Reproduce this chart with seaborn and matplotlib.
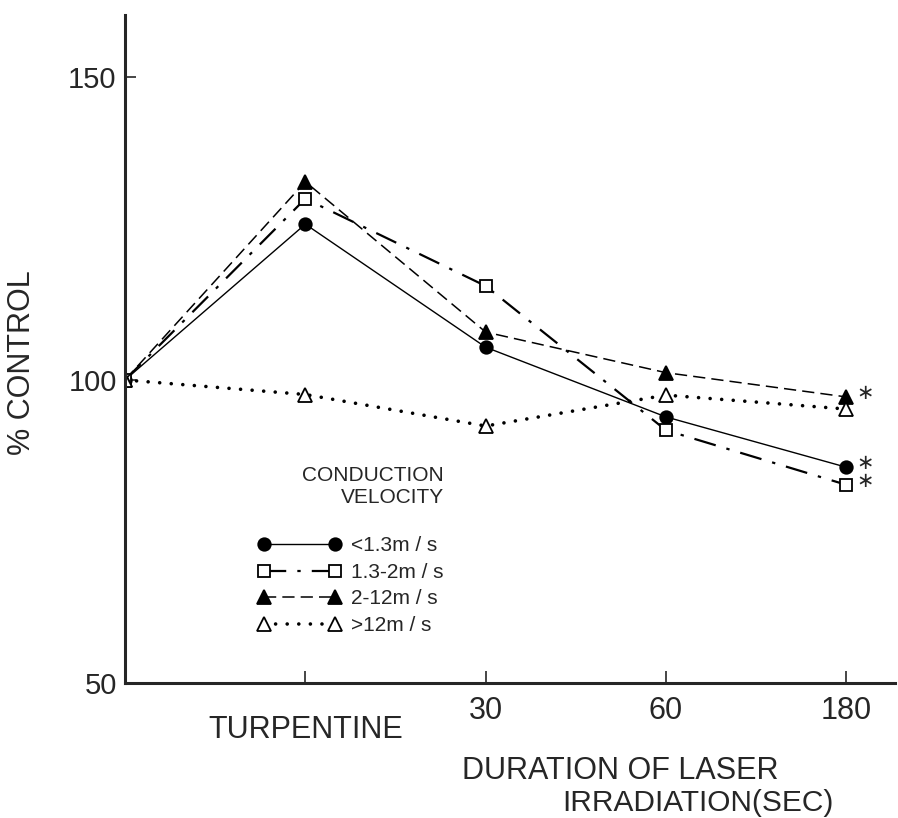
import pandas as pd
import matplotlib.pyplot as plt
import matplotlib.transforms as mtransforms
import seaborn as sns

# x positions: control, turpentine, 30 s, 60 s, 180 s
positions = [0, 1, 2, 3, 4]
tick_labels = ["TURPENTINE", "30", "60", "180"]

series_names = ["<1.3m / s", "1.3-2m / s", "2-12m / s", ">12m / s"]
slow_values = [100, 125.7, 105.4, 93.9, 85.6]
mid_values = [100, 129.9, 115.5, 91.7, 82.7]
fast_values = [100, 132.7, 107.9, 101.2, 97.2]
fastest_values = [100, 97.6, 92.4, 97.5, 95.2]
significant = [True, True, True, False]

sns.set_style("ticks")
plt.rcParams["font.family"] = ["Liberation Sans", "DejaVu Sans"]

fig = plt.figure(figsize=(8.98, 8.18), dpi=100)
ax = fig.add_axes([0.1392, 0.165, 0.8575, 0.8166])

styles = [
    dict(marker="o", markersize=9, markerfacecolor="black", linestyle="-", linewidth=1.0),
    dict(marker="s", markersize=8.5, markerfacecolor="white", linestyle=(0, (10, 5, 1.5, 5)), linewidth=1.6),
    dict(marker="^", markersize=9.5, markerfacecolor="black", linestyle=(0, (8, 4)), linewidth=1.1),
    dict(marker="^", markersize=9.5, markerfacecolor="white", linestyle=(0, (0.01, 3.2)),
         linewidth=2.6, dash_capstyle="round"),
]
all_values = [slow_values, mid_values, fast_values, fastest_values]

for name, vals, st, star in zip(series_names, all_values, styles, significant):
    df = pd.DataFrame({"pos": positions, "value": vals})
    sns.lineplot(data=df, x="pos", y="value", ax=ax, color="black", label=name,
                 markeredgecolor="black", markeredgewidth=1.3, errorbar=None, **st)
    if star:
        # significance mark, drawn just up-right of the 180 s point
        ax.annotate("\u2217", xy=(positions[-1], vals[-1]), xytext=(7, 3),
                    textcoords="offset points", fontsize=15, ha="left", va="center",
                    family=["DejaVu Sans"])

ax.set_xlim(0, 4.27)
ax.set_ylim(50, 160.2)
ax.set_xticks(positions[1:])
ax.set_xticklabels(tick_labels)
ax.set_yticks([50, 100, 150])
ax.tick_params(axis="x", direction="in", length=9, width=1.2, labelsize=22, pad=9)
ax.tick_params(axis="y", direction="in", length=8, width=1.2, labelsize=21, pad=6)

# turpentine label sits lower than the time labels
turp = ax.get_xticklabels()[0]
turp.set_transform(turp.get_transform() + mtransforms.ScaledTranslation(0, -14 / 72, fig.dpi_scale_trans))

sns.despine(ax=ax)
for side in ["left", "bottom"]:
    ax.spines[side].set_linewidth(2.2)

ax.set_xlabel("")
ax.set_ylabel("% CONTROL", fontsize=22)
ax.yaxis.set_label_coords(-0.114, 0.48)

fig.text(462 / 898, 1 - 771 / 818, "DURATION OF LASER", fontsize=22, ha="left", va="center")
fig.text(562 / 898, 1 - 803 / 818, "IRRADIATION(SEC)", fontsize=21.5, ha="left", va="center")

leg = ax.legend(loc="upper left", bbox_to_anchor=(0.148, 0.353), frameon=False, numpoints=2,
                handlelength=4.0, handletextpad=0.5, labelspacing=0.36, fontsize=15,
                title="CONDUCTION\nVELOCITY\n", title_fontsize=15, alignment="right")
leg.get_title().set_multialignment("right")

fig.savefig("out.png", dpi=100)
